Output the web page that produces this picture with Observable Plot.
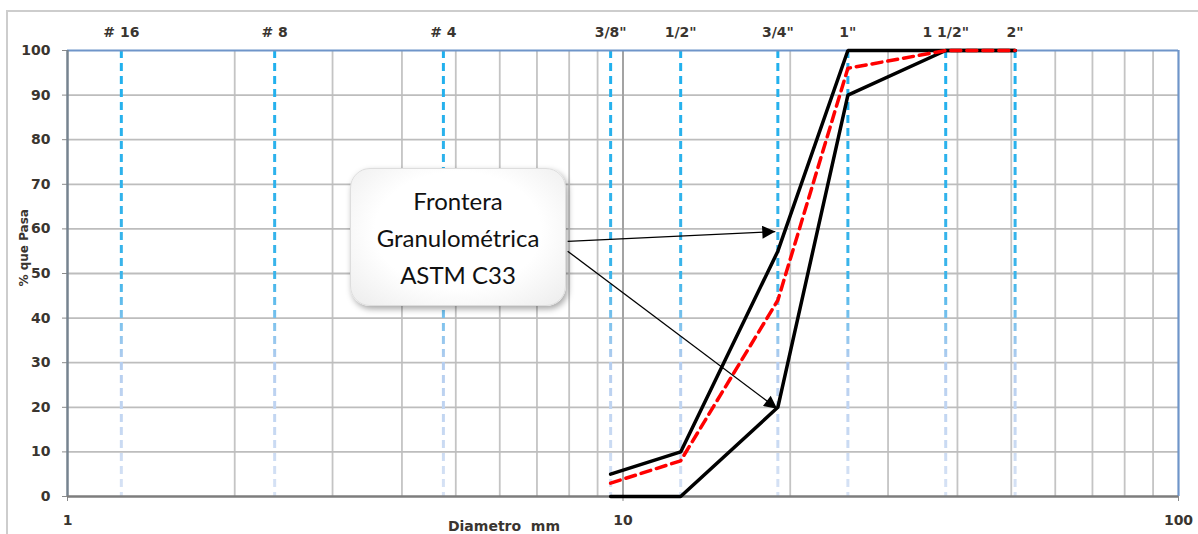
<!DOCTYPE html>
<html><head><meta charset="utf-8">
<script src="https://cdn.jsdelivr.net/npm/d3@7"></script>
<script src="https://cdn.jsdelivr.net/npm/@observablehq/plot@0.6"></script>
<style>
html,body{margin:0;padding:0;background:#fff;overflow:hidden;}
#wrap{position:relative;width:1198px;height:534px;overflow:hidden;}
#frame{position:absolute;left:6px;top:10px;width:1210px;height:560px;border:2px solid #cdcdcd;box-sizing:border-box;pointer-events:none;}
#chart{position:absolute;left:0;top:0;}
#callout{position:absolute;left:350px;top:168px;width:216px;height:138px;border-radius:20px;
  background:radial-gradient(ellipse at 50% 45%, #ffffff 55%, #ececec 100%);
  box-shadow:2px 3px 6px rgba(0,0,0,0.35);border:1px solid #dddddd;box-sizing:border-box;
  display:flex;flex-direction:column;justify-content:center;align-items:center;
  font-family:Lato,"Open Sans",sans-serif;font-size:24px;line-height:37px;color:#111;}
</style></head><body>
<div id="wrap"><div id="chart"></div><div id="frame"></div><div id="callout"></div></div>
<script>
// Sieve sizes (mm) and their labels along the top
const sieveLabels = ["# 16", "# 8", "# 4", "3/8\"", "1/2\"", "3/4\"", "1\"", "1 1/2\"", "2\""];
const sieveSizes = [1.25, 2.36, 4.75, 9.5, 12.7, 19.0, 25.4, 38.1, 50.8];

// Grading curves (% passing) at the sieve sizes
const curveSizes = [9.5, 12.7, 19.0, 25.4, 38.1, 50.8];
const upperLimit = [5, 10, 55, 100, 100, 100];
const lowerLimit = [0, 0, 20, 90, 100, 100];
const sampleCurve = [3, 8, 44, 96, 100, 100];

// Axis ticks
const yTicks = [0, 10, 20, 30, 40, 50, 60, 70, 80, 90, 100];
const xMajorTicks = [1, 10, 100];
const xMinorGrid = [2, 3, 4, 5, 6, 7, 8, 9, 20, 30, 40, 50, 60, 70, 80, 90];

// Callout
const calloutLines = ["Frontera", "Granulométrica", "ASTM C33"];
const arrowFromX = [7.95, 7.95];
const arrowFromY = [57.2, 55.0];
const arrowToX = [18.8, 18.95];
const arrowToY = [59.4, 19.7];

const xLabel = "Diametro\u00a0 mm";
const yLabel = "% que Pasa";

const sieves = sieveSizes.map((s, i) => ({size: s, label: sieveLabels[i]}));
const toSeries = (vals) => curveSizes.map((s, i) => ({x: s, y: vals[i]}));
const arrows = arrowFromX.map((d, i) => ({x1: d, y1: arrowFromY[i], x2: arrowToX[i], y2: arrowToY[i]}));

const plot = Plot.plot({
  width: 1198, height: 534,
  marginLeft: 67, marginRight: 20, marginTop: 50, marginBottom: 38,
  style: {background: "transparent", fontFamily: "'DejaVu Sans', Verdana, sans-serif", fontWeight: "bold", fontSize: "14px", color: "#3a3530", overflow: "visible"},
  x: {type: "log", domain: [1, 100]},
  y: {domain: [0, 100]},
  marks: [
    Plot.ruleX(xMinorGrid, {stroke: "#c4c4c4", strokeWidth: 1.8}),
    Plot.ruleY(yTicks.slice(1, -1), {stroke: "#bdbdbd", strokeWidth: 1.8}),
    Plot.ruleX([10], {stroke: "#a3a3a3", strokeWidth: 2}),
    Plot.ruleX(sieves, {x: "size", stroke: "#2bb0ea", strokeWidth: 3, strokeDasharray: "8,5"}),
    Plot.ruleY([100], {stroke: "#6f95c9", strokeWidth: 2}),
    Plot.ruleX([100], {stroke: "#6f95c9", strokeWidth: 2.2}),
    Plot.axisY({ticks: yTicks, tickSize: 5, tickPadding: 12, label: null, stroke: "#8a8a8a"}),
    Plot.axisX({ticks: xMajorTicks, tickFormat: d => String(d), tickSize: 5, tickPadding: 14, label: null, stroke: "#8a8a8a"}),
    Plot.ruleX([1], {stroke: "#76838f", strokeWidth: 2.5}),
    Plot.ruleY([0], {stroke: "#7d7d7d", strokeWidth: 2.5}),
    Plot.text(sieves, {x: "size", text: "label", frameAnchor: "top", dy: -23, fontSize: 14}),
    Plot.line(toSeries(lowerLimit), {x: "x", y: "y", stroke: "#000", strokeWidth: 3.5, strokeLinejoin: "miter"}),
    Plot.line(toSeries(upperLimit), {x: "x", y: "y", stroke: "#000", strokeWidth: 3.5, strokeLinejoin: "miter"}),
    Plot.line(toSeries(sampleCurve), {x: "x", y: "y", stroke: "#ff0000", strokeWidth: 3.5, strokeDasharray: "10,6"}),
    Plot.link(arrows, {x1: "x1", y1: "y1", x2: "x2", y2: "y2", stroke: "#000", strokeWidth: 1.3}),
    Plot.text([yLabel], {frameAnchor: "left", rotate: -90, dx: -43, dy: 13, fontSize: 12}),
    Plot.text([xLabel], {frameAnchor: "bottom", dx: -119, dy: 34, fontSize: 14})
  ]
});

const svg = d3.select(plot);
const defs = svg.insert("defs", ":first-child");
const grad = defs.append("linearGradient").attr("id", "sieveGrad")
  .attr("gradientUnits", "userSpaceOnUse").attr("x1", 0).attr("x2", 0).attr("y1", 50).attr("y2", 496);
[[0, "#1fb0ee"], [0.5, "#3ab4ea"], [0.7, "#b4cdef"], [1, "#d8e3f5"]].forEach(([o, c]) =>
  grad.append("stop").attr("offset", o).attr("stop-color", c));
defs.append("marker").attr("id", "ah").attr("viewBox", "0 0 10 10").attr("refX", 10).attr("refY", 5)
  .attr("markerUnits", "userSpaceOnUse").attr("markerWidth", 18).attr("markerHeight", 13).attr("orient", "auto")
  .append("path").attr("d", "M0,0L10,5L0,10Z").attr("fill", "#000");
svg.selectAll("g").filter(function () {
  return this.getAttribute("stroke-dasharray") === "8,5";
}).attr("stroke", "url(#sieveGrad)").selectAll("line").attr("stroke", "url(#sieveGrad)");
svg.selectAll('g[aria-label="link"] path').attr("marker-end", "url(#ah)");

document.getElementById("chart").appendChild(plot);
const callout = document.getElementById("callout");
calloutLines.forEach(t => { const d = document.createElement("div"); d.textContent = t; callout.appendChild(d); });
</script>
</body></html>
